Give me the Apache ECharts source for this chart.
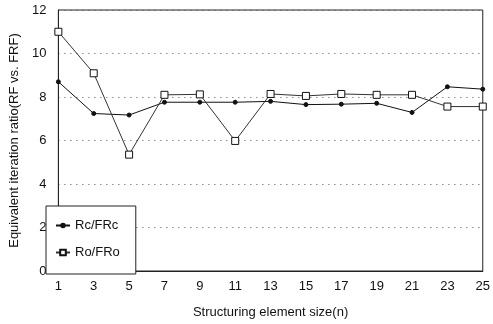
<!DOCTYPE html>
<html><head><meta charset="utf-8">
<script src="https://cdn.jsdelivr.net/npm/echarts@6/dist/echarts.min.js"></script>
<style>html,body{margin:0;padding:0;background:#fff}#c{width:493px;height:324px}</style>
</head><body><div id="c"></div>
<script>
var categories = ['1','3','5','7','9','11','13','15','17','19','21','23','25'];
var rcFRc = [8.7, 7.24, 7.17, 7.76, 7.76, 7.76, 7.8, 7.65, 7.67, 7.71, 7.29, 8.47, 8.36];
var roFRo = [11.0, 9.09, 5.35, 8.1, 8.12, 5.98, 8.14, 8.05, 8.14, 8.1, 8.1, 7.56, 7.56];
var seriesNames = ['Rc/FRc', 'Ro/FRo'];
var xTitle = 'Structuring element size(n)';
var yTitle = 'Equivalent iteration ratio(RF vs. FRF)';

var chart = echarts.init(document.getElementById('c'), null, {renderer: 'canvas'});
var font = 'Liberation Sans, Arial, sans-serif';
chart.setOption({
  animation: false,
  backgroundColor: '#fff',
  grid: {left: 46, right: 6, top: 10, bottom: 51, show: true, borderColor: '#222', borderWidth: 1},
  legend: {
    orient: 'vertical', left: 46, top: 206,
    padding: [13, 16, 15, 9], itemGap: 14, itemWidth: 14, itemHeight: 7,
    borderColor: '#222', borderWidth: 1, backgroundColor: '#fff',
    textStyle: {fontFamily: font, fontSize: 13, color: '#111'},
    data: seriesNames
  },
  xAxis: {
    type: 'category', data: categories, boundaryGap: false,
    name: xTitle, nameLocation: 'middle', nameGap: 35,
    nameTextStyle: {fontFamily: font, fontSize: 13, color: '#111'},
    axisLine: {lineStyle: {color: '#222', width: 1}},
    axisTick: {show: false},
    axisLabel: {fontFamily: font, fontSize: 13, color: '#111', margin: 9},
    splitLine: {show: false}
  },
  yAxis: {
    type: 'value', min: 0, max: 12, interval: 2,
    name: yTitle, nameLocation: 'middle', nameGap: 32,
    nameTextStyle: {fontFamily: font, fontSize: 13, color: '#111'},
    axisLine: {show: true, lineStyle: {color: '#222', width: 1}},
    axisTick: {show: false},
    axisLabel: {fontFamily: font, fontSize: 13, color: '#111', margin: 12},
    splitLine: {show: true, lineStyle: {color: '#555', type: [1, 5], width: 1}}
  },
  series: [
    {
      name: seriesNames[0], type: 'line', data: rcFRc,
      symbol: 'circle', symbolSize: 4,
      lineStyle: {color: '#111', width: 1},
      itemStyle: {color: '#111', borderColor: '#111'}
    },
    {
      name: seriesNames[1], type: 'line', data: roFRo,
      symbol: 'rect', symbolSize: 7,
      lineStyle: {color: '#333', width: 1},
      itemStyle: {color: '#fff', borderColor: '#111', borderWidth: 1}
    }
  ]
});
</script></body></html>
